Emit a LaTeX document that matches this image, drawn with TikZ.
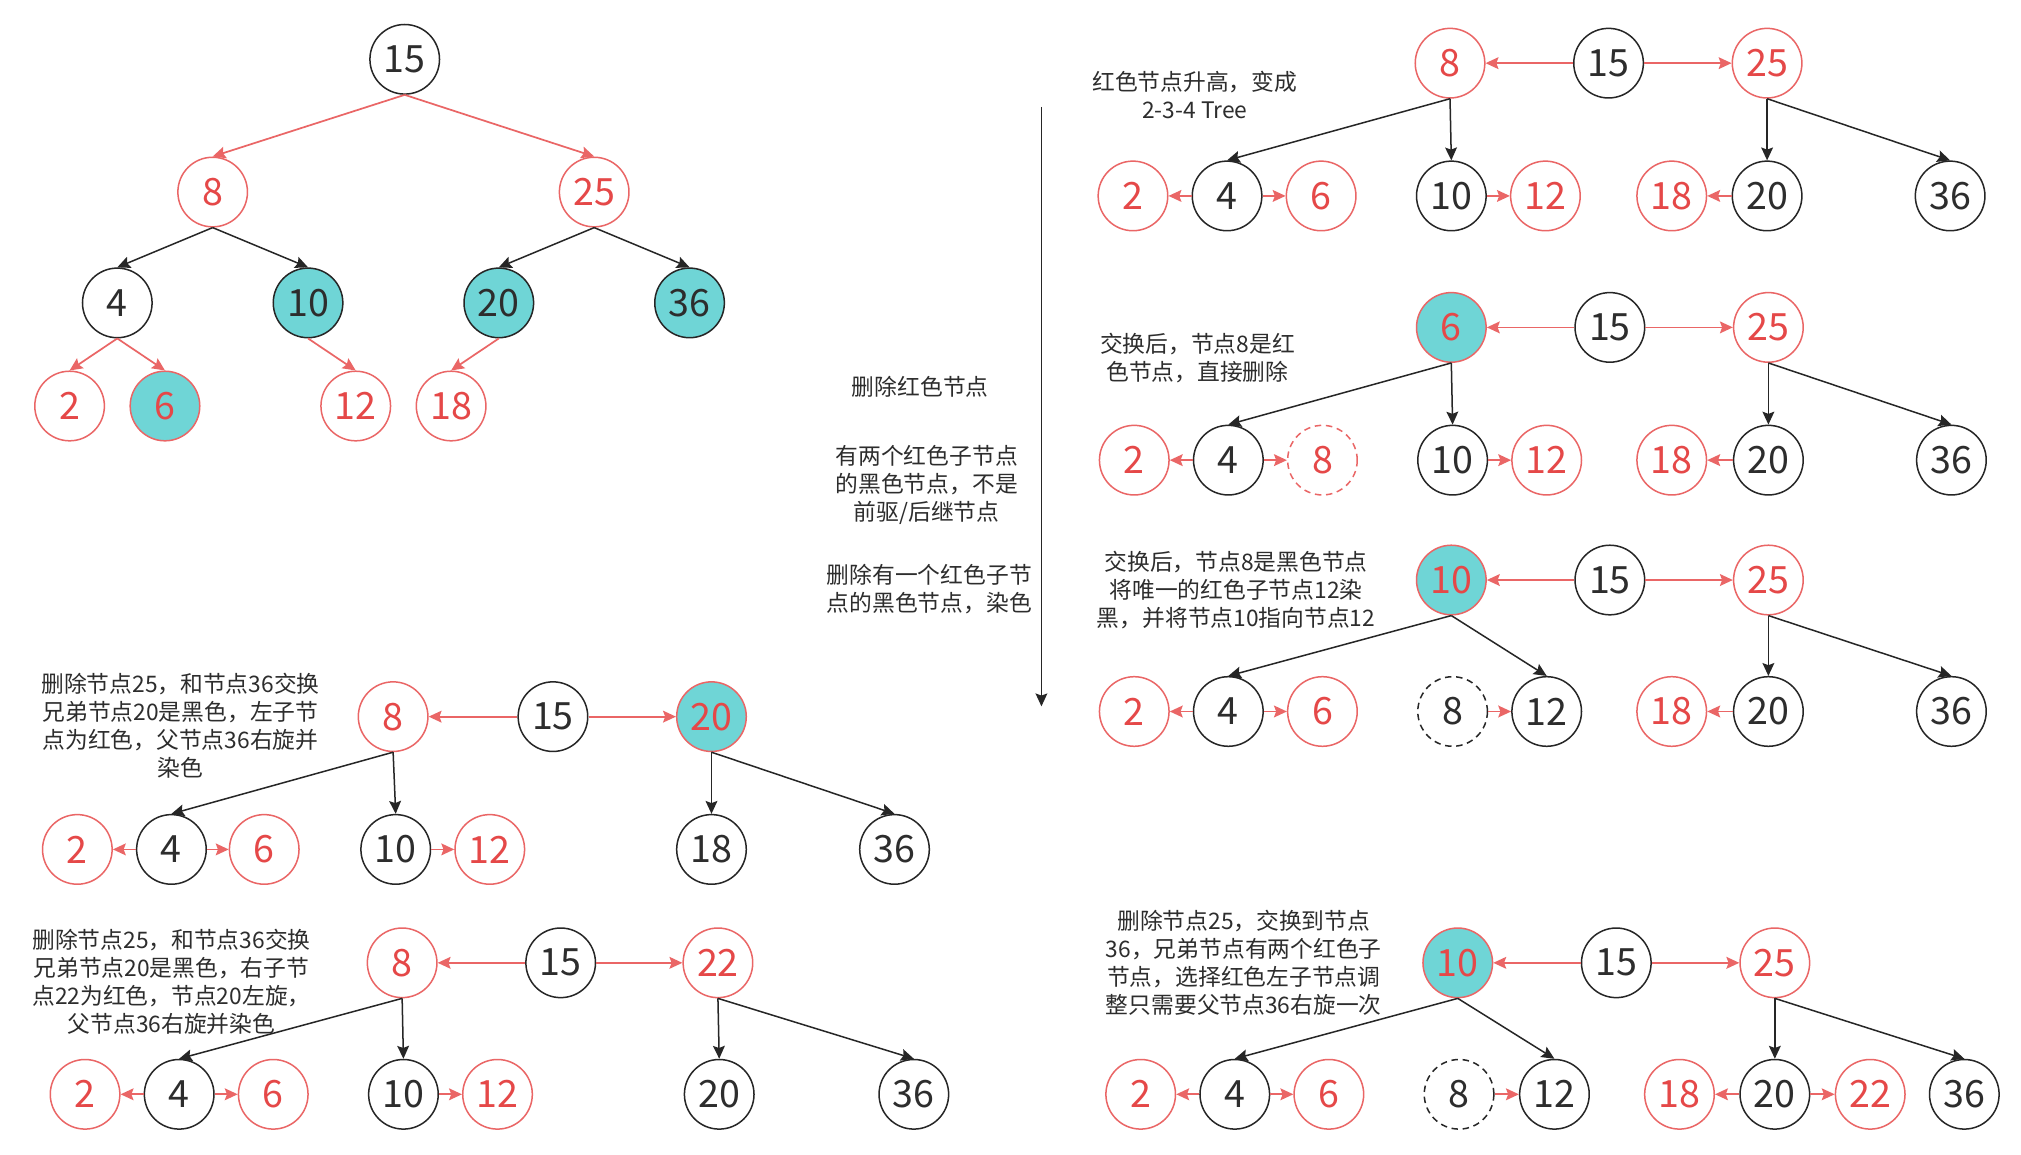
\documentclass[tikz,border=0pt]{standalone}
\usepackage{fontspec}
\setmainfont{Noto Sans CJK SC}
\usetikzlibrary{arrows.meta}
\definecolor{rline}{RGB}{234,102,102}
\definecolor{rtext}{RGB}{229,72,72}
\definecolor{tealf}{RGB}{111,213,214}
\definecolor{dline}{RGB}{38,38,38}
\definecolor{dtext}{RGB}{45,45,45}
\begin{document}
\begin{tikzpicture}[x=0.6pt,y=-0.6pt,
 nd/.style={circle, inner sep=0pt, minimum size=32.4pt, line width=0.7pt, font=\fontsize{17.5}{20}\selectfont},
 bk/.style={nd, draw=dline, text=dtext, fill=white},
 rd/.style={nd, draw=rline, text=rtext, fill=white},
 bt/.style={nd, draw=dline, text=dtext, fill=tealf},
 rt/.style={nd, draw=rline, text=rtext, fill=tealf},
 rdash/.style={rd, dash pattern=on 3pt off 2.2pt},
 bdash/.style={bk, dash pattern=on 3pt off 2.2pt},
 re/.style={draw=rline, line width=0.8pt, -{Stealth[length=6pt,width=5.5pt,inset=1pt]}},
 be/.style={draw=dline, line width=0.7pt, -{Stealth[length=6pt,width=5.5pt,inset=1pt]}},
 txt/.style={text=dtext, align=center, inner sep=0pt, font=\fontsize{10.6}{13}\selectfont}
]
\fill[white] (0,0) rectangle (1568,896);
\useasboundingbox (0,0) rectangle (1568,896);

% ---------- top-left tree ----------
\node[bk] (a15) at (314,46) {15};
\node[rd] (a8) at (165,149) {8};
\node[rd] (a25) at (461,149) {25};
\node[bk] (a4) at (91,235) {4};
\node[bt] (a10) at (239,235) {10};
\node[bt] (a20) at (387,235) {20};
\node[bt] (a36) at (535,235) {36};
\node[rd] (a2) at (54,315) {2};
\node[rt] (a6) at (128,315) {6};
\node[rd] (a12) at (276,315) {12};
\node[rd] (a18) at (350,315) {18};
\draw[re] (a15.south) -- (a8.north);
\draw[re] (a15.south) -- (a25.north);
\draw[be] (a8.south) -- (a4.north);
\draw[be] (a8.south) -- (a10.north);
\draw[be] (a25.south) -- (a20.north);
\draw[be] (a25.south) -- (a36.north);
\draw[re] (a4.south) -- (a2.north);
\draw[re] (a4.south) -- (a6.north);
\draw[re] (a10.south) -- (a12.north);
\draw[re] (a20.south) -- (a18.north);

% ---------- panel b ----------
\node[rd] (b8) at (1125,49) {8};
\node[bk] (b15) at (1248,49) {15};
\node[rd] (b25) at (1371,49) {25};
\node[rd] (b2) at (879,152) {2};
\node[bk] (b4) at (952,152) {4};
\node[rd] (b6) at (1025,152) {6};
\node[bk] (b10) at (1126,152) {10};
\node[rd] (b12) at (1199,152) {12};
\node[rd] (b18) at (1297,152) {18};
\node[bk] (b20) at (1371,152) {20};
\node[bk] (b36) at (1513,152) {36};
\draw[re] (b15.west) -- (b8.east);
\draw[re] (b15.east) -- (b25.west);
\draw[be] (b8.south) -- (b4.north);
\draw[be] (b8.south) -- (b10.north);
\draw[be] (b25.south) -- (b20.north);
\draw[be] (b25.south) -- (b36.north);
\draw[re] (b4.west) -- (b2.east);
\draw[re] (b4.east) -- (b6.west);
\draw[re] (b10.east) -- (b12.west);
\draw[re] (b20.west) -- (b18.east);

% ---------- panel c ----------
\node[rt] (c6) at (1126,254) {6};
\node[bk] (c15) at (1249,254) {15};
\node[rd] (c25) at (1372,254) {25};
\node[rd] (c2) at (880,357) {2};
\node[bk] (c4) at (953,357) {4};
\node[rdash] (c8) at (1026,357) {8};
\node[bk] (c10) at (1127,357) {10};
\node[rd] (c12) at (1200,357) {12};
\node[rd] (c18) at (1297,357) {18};
\node[bk] (c20) at (1372,357) {20};
\node[bk] (c36) at (1514,357) {36};
\draw[re] (c15.west) -- (c6.east);
\draw[re] (c15.east) -- (c25.west);
\draw[be] (c6.south) -- (c4.north);
\draw[be] (c6.south) -- (c10.north);
\draw[be] (c25.south) -- (c20.north);
\draw[be] (c25.south) -- (c36.north);
\draw[re] (c4.west) -- (c2.east);
\draw[re] (c4.east) -- (c8.west);
\draw[re] (c10.east) -- (c12.west);
\draw[re] (c20.west) -- (c18.east);

% ---------- panel d ----------
\node[rt] (d10) at (1126,450) {10};
\node[bk] (d15) at (1249,450) {15};
\node[rd] (d25) at (1372,450) {25};
\node[rd] (d2) at (880,552) {2};
\node[bk] (d4) at (953,552) {4};
\node[rd] (d6) at (1026,552) {6};
\node[bdash] (d8) at (1127,552) {8};
\node[bk] (d12) at (1200,552) {12};
\node[rd] (d18) at (1297,552) {18};
\node[bk] (d20) at (1372,552) {20};
\node[bk] (d36) at (1514,552) {36};
\draw[re] (d15.west) -- (d10.east);
\draw[re] (d15.east) -- (d25.west);
\draw[be] (d10.south) -- (d4.north);
\draw[be] (d10.south) -- (d12.north);
\draw[be] (d25.south) -- (d20.north);
\draw[be] (d25.south) -- (d36.north);
\draw[re] (d4.west) -- (d2.east);
\draw[re] (d4.east) -- (d6.west);
\draw[re] (d8.east) -- (d12.west);
\draw[re] (d20.west) -- (d18.east);

% ---------- panel e ----------
\node[rd] (e8) at (305,556) {8};
\node[bk] (e15) at (429,556) {15};
\node[rt] (e20) at (552,556) {20};
\node[rd] (e2) at (60,659) {2};
\node[bk] (e4) at (133,659) {4};
\node[rd] (e6) at (205,659) {6};
\node[bk] (e10) at (307,659) {10};
\node[rd] (e12) at (380,659) {12};
\node[bk] (e18) at (552,659) {18};
\node[bk] (e36) at (694,659) {36};
\draw[re] (e15.west) -- (e8.east);
\draw[re] (e15.east) -- (e20.west);
\draw[be] (e8.south) -- (e4.north);
\draw[be] (e8.south) -- (e10.north);
\draw[be] (e20.south) -- (e18.north);
\draw[be] (e20.south) -- (e36.north);
\draw[re] (e4.west) -- (e2.east);
\draw[re] (e4.east) -- (e6.west);
\draw[re] (e10.east) -- (e12.west);

% ---------- panel f ----------
\node[rd] (f8) at (312,747) {8};
\node[bk] (f15) at (435,747) {15};
\node[rd] (f22) at (557,747) {22};
\node[rd] (f2) at (66,849) {2};
\node[bk] (f4) at (139,849) {4};
\node[rd] (f6) at (212,849) {6};
\node[bk] (f10) at (313,849) {10};
\node[rd] (f12) at (386,849) {12};
\node[bk] (f20) at (558,849) {20};
\node[bk] (f36) at (709,849) {36};
\draw[re] (f15.west) -- (f8.east);
\draw[re] (f15.east) -- (f22.west);
\draw[be] (f8.south) -- (f4.north);
\draw[be] (f8.south) -- (f10.north);
\draw[be] (f22.south) -- (f20.north);
\draw[be] (f22.south) -- (f36.north);
\draw[re] (f4.west) -- (f2.east);
\draw[re] (f4.east) -- (f6.west);
\draw[re] (f10.east) -- (f12.west);

% ---------- panel g ----------
\node[rt] (g10) at (1131,747) {10};
\node[bk] (g15) at (1254,747) {15};
\node[rd] (g25) at (1377,747) {25};
\node[rd] (g2) at (885,849) {2};
\node[bk] (g4) at (958,849) {4};
\node[rd] (g6) at (1031,849) {6};
\node[bdash] (g8) at (1132,849) {8};
\node[bk] (g12) at (1206,849) {12};
\node[rd] (g18) at (1303,849) {18};
\node[bk] (g20) at (1377,849) {20};
\node[rd] (g22) at (1451,849) {22};
\node[bk] (g36) at (1524,849) {36};
\draw[re] (g15.west) -- (g10.east);
\draw[re] (g15.east) -- (g25.west);
\draw[be] (g10.south) -- (g4.north);
\draw[be] (g10.south) -- (g12.north);
\draw[be] (g25.south) -- (g20.north);
\draw[be] (g25.south) -- (g36.north);
\draw[re] (g4.west) -- (g2.east);
\draw[re] (g4.east) -- (g6.west);
\draw[re] (g8.east) -- (g12.west);
\draw[re] (g20.west) -- (g18.east);
\draw[re] (g20.east) -- (g22.west);

% ---------- vertical arrow ----------
\coordinate (vt) at (808,83);
\coordinate (vb) at (808,548);
\draw[be] (vt) -- (vb);

% ---------- texts ----------
\node[txt] (t1) at (927,74) {红色节点升高，变成\\2-3-4 Tree};
\node[txt] (t2) at (929,278) {交换后，节点8是红\\色节点，直接删除};
\node[txt] (t3) at (959,458) {交换后，节点8是黑色节点\\将唯一的红色子节点12染\\黑，并将节点10指向节点12};
\node[txt] (t4) at (714,300) {删除红色节点};
\node[txt] (t5) at (719,376) {有两个红色子节点\\的黑色节点，不是\\前驱/后继节点};
\node[txt] (t6) at (721,457) {删除有一个红色子节\\点的黑色节点，染色};
\node[txt] (t7) at (140,563) {删除节点25，和节点36交换\\兄弟节点20是黑色，左子节\\点为红色，父节点36右旋并\\染色};
\node[txt] (t8) at (133,762) {删除节点25，和节点36交换\\兄弟节点20是黑色，右子节\\点22为红色，节点20左旋，\\父节点36右旋并染色};
\node[txt] (t9) at (965,747) {删除节点25，交换到节点\\36，兄弟节点有两个红色子\\节点，选择红色左子节点调\\整只需要父节点36右旋一次};
\end{tikzpicture}
\end{document}
